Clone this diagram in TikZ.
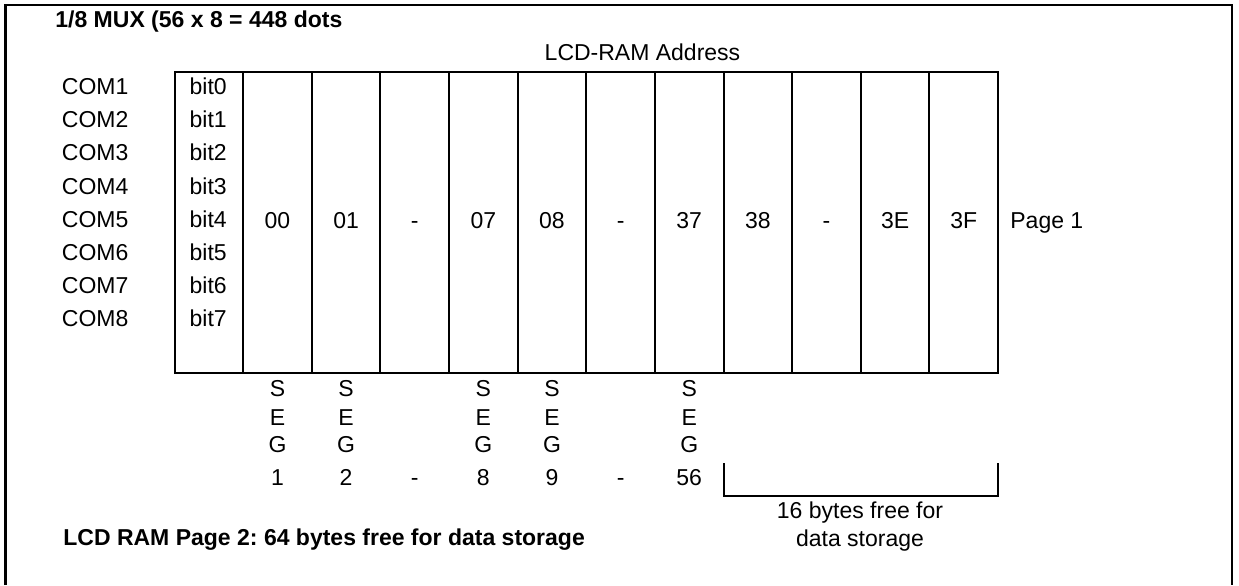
\documentclass[tikz,border=0pt]{standalone}
\usepackage{fontspec}
\setmainfont{Liberation Sans}
\frenchspacing
\usetikzlibrary{positioning}
\tikzset{
  every picture/.style={line join=miter},
  txt/.style={anchor=base,inner sep=0pt,font=\fontsize{11.5}{14}\selectfont},
  txtl/.style={txt,anchor=base west},
  bold/.style={txtl,font=\fontsize{11.5}{14}\selectfont\bfseries},
  grid/.style={line width=1pt},
  frame/.style={line width=1.2pt},
}

\begin{document}
\begin{tikzpicture}[x=0.5pt,y=-0.5pt]
\useasboundingbox(0,0)rectangle(1239,585);
% outer frame, open at the bottom
\draw[frame](5.5,585)--(5.5,5)--(1232,5)--(1232,585);
\node[bold](title)at(55,27){1/8 MUX (56 x 8 = 448 dots};
\node[txt](addr)at(642.5,60){LCD-RAM Address};
% table
\def\cw{68.63}
\draw[grid](174.5,71.5)rectangle(998,373);
\foreach \k in {1,...,11}
  \draw[grid](174.5+\cw*\k,71.5)--(174.5+\cw*\k,373);
% rows
\foreach \i [count=\n] in {0,...,7}{
  \node[txtl](com\n)at(61.5,94.5+33.2*\i){COM\n};
  \node[txtl](bit\i)at(189.3,94.5+33.2*\i){bit\i};
}
% addresses
\foreach \a [count=\k] in {00,01,-,07,08,-,37,38,-,3E,3F}
  \node[txt](adr\k)at(174.5+\cw*\k+\cw/2,228.3){\a};
\node[txtl](page1)at(1010,228.3){Page 1};
% segment outputs
\foreach \k/\s in {1/1,2/2,4/8,5/9,7/56}{
  \node[txt](segS\k)at(174.5+\cw*\k+\cw/2,396.7){S};
  \node[txt](segE\k)at(174.5+\cw*\k+\cw/2,425){E};
  \node[txt](segG\k)at(174.5+\cw*\k+\cw/2,452.7){G};
  \node[txt](segN\k)at(174.5+\cw*\k+\cw/2,485){\s};
}
\foreach \k in {3,6}
  \node[txt](segN\k)at(174.5+\cw*\k+\cw/2,485){-};
% free bytes bracket
\coordinate(frL)at(723.5,463);
\coordinate(frR)at(998,463);
\draw[grid](frL)--++(0,33)-|(frR);
\node[txt](free1)at(860,518.3){16 bytes free for};
\node[txt](free2)at(860,546){data storage};
\node[bold](page2)at(63,545){LCD RAM Page 2: 64 bytes free for data storage};
\end{tikzpicture}
\end{document}
